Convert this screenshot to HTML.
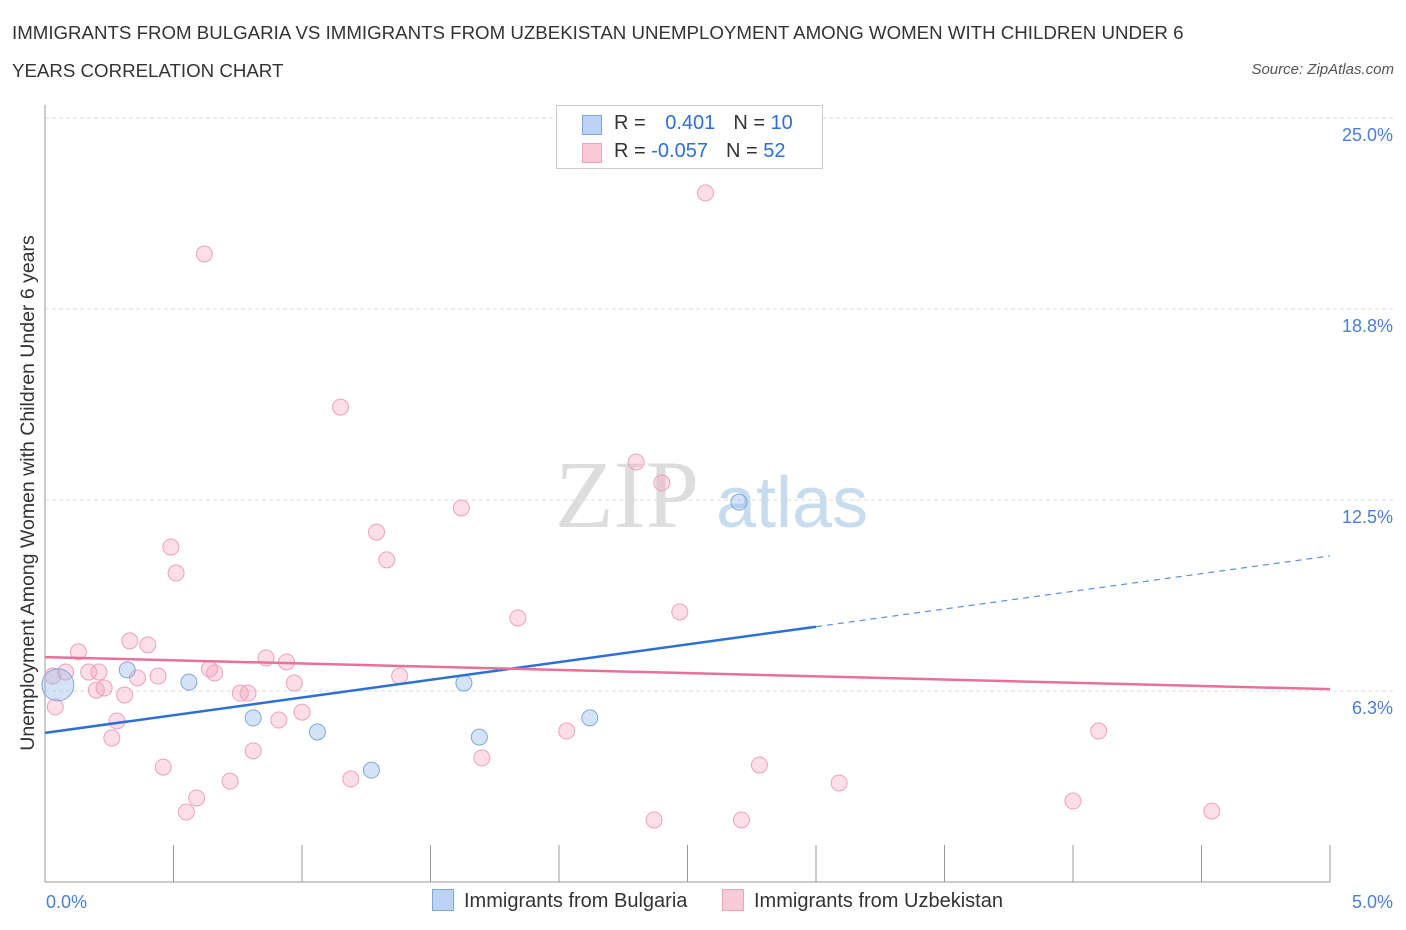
<!DOCTYPE html>
<html><head><meta charset="utf-8"><style>
body{margin:0;background:#fff;font-family:"Liberation Sans",sans-serif;}
#wrap{position:relative;width:1406px;height:930px;overflow:hidden;}
.t{position:absolute;white-space:nowrap;}
</style></head><body>
<div id="wrap">
<div class="t" style="left:12px;top:14px;font-size:18.7px;color:#333;line-height:38px;">IMMIGRANTS FROM BULGARIA VS IMMIGRANTS FROM UZBEKISTAN UNEMPLOYMENT AMONG WOMEN WITH CHILDREN UNDER 6<br>YEARS CORRELATION CHART</div>
<div class="t" style="right:12px;top:61px;font-size:15px;color:#555;font-style:italic;">Source: ZipAtlas.com</div>
<svg id="svg" width="1406" height="930" style="position:absolute;left:0;top:0;"></svg>
</div>
<script>
const xTicksPct=[0,5];
const yTicks=[6.25,12.5,18.75,25];
const yTickLabels=["6.3%","12.5%","18.8%","25.0%"];
const bulgariaX=[0.05,0.32,0.56,0.81,1.06,1.27,1.63,1.69,2.12,2.70];
const bulgariaY=[6.45,6.94,6.54,5.37,4.91,3.66,6.51,4.74,5.37,12.43];
const uzbekX=[0.62,1.15,2.57,2.30,2.40,1.62,1.29,1.33,0.49,0.51,1.84,2.47,0.13,0.33,0.40,0.21,0.17,0.08,0.03,0.20,0.23,0.31,0.36,0.44,0.64,0.66,0.86,0.94,0.97,0.76,0.79,0.28,0.26,0.04,0.91,1.00,0.81,1.38,0.46,0.59,0.55,0.72,1.19,1.70,2.03,2.37,2.71,2.78,3.09,4.00,4.10,4.54];
const uzbekY=[20.55,15.54,22.55,13.74,13.06,12.24,11.45,10.54,10.96,10.11,8.64,8.84,7.53,7.89,7.76,6.87,6.87,6.87,6.74,6.28,6.35,6.12,6.68,6.74,6.97,6.84,7.33,7.20,6.51,6.18,6.18,5.27,4.71,5.73,5.30,5.56,4.29,6.74,3.76,2.75,2.29,3.30,3.37,4.06,4.94,2.03,2.03,3.83,3.24,2.65,4.94,2.32];
const bulgariaTrend=[4.88,10.67];
const uzbekTrend=[7.36,6.31];
const NS="http://www.w3.org/2000/svg";
const svg=document.getElementById('svg');
const X0=45,X1=1330,Y0=882,PER=30.56;
function sx(v){return X0+(X1-X0)*v/5;}
function sy(v){return Y0-v*PER;}
function el(tag,attrs){const e=document.createElementNS(NS,tag);for(const k in attrs)e.setAttribute(k,attrs[k]);svg.appendChild(e);return e;}
let w=el('text',{x:555,y:527,'font-size':96,fill:'#ddd','font-family':'Liberation Serif,serif'});w.textContent='ZIP';


w=el('text',{x:716,y:527,'font-size':72,fill:'#c8dcf0','font-family':'Liberation Sans,sans-serif'});w.textContent='atlas';


el('line',{x1:X0,x2:1395,y1:118,y2:118,stroke:'#ddd','stroke-dasharray':'4,3'});
yTicks.forEach((v,i)=>{
 const g=el('line',{x1:X0,x2:1395,y1:sy(v),y2:sy(v),stroke:'#ddd','stroke-dasharray':'4,3'});
 
 
 const t=el('text',{x:1393,y:sy(v)+23,'text-anchor':'end','font-size':18,fill:'#4a7fd4'});t.textContent=yTickLabels[i];
 
 
});
el('line',{x1:X0,x2:X0,y1:105,y2:Y0,stroke:'#999'});
el('line',{x1:X0,x2:X1,y1:Y0,y2:Y0,stroke:'#999'});
for(let i=0;i<=10;i++){const x=sx(i*0.5);el('line',{x1:x,x2:x,y1:845,y2:Y0,stroke:'#999'});}
xTicksPct.forEach(v=>{const t=el('text',{x:v==0?46:1393,y:908,'text-anchor':v==0?'start':'end','font-size':18,fill:'#4a7fd4'});t.textContent=v.toFixed(1)+'%';
 
 });
let yt=el('text',{x:34,y:493,'text-anchor':'middle','font-size':19.5,fill:'#333',transform:'rotate(-90 34 493)'});yt.textContent='Unemployment Among Women with Children Under 6 years';


uzbekX.forEach((x,i)=>{const c=el('circle',{cx:sx(x),cy:sy(uzbekY[i]),r:8,fill:'rgba(244,160,185,0.35)',stroke:'#eea2b8','stroke-width':1});
 
 });
bulgariaX.forEach((x,i)=>{const c=el('circle',{cx:sx(x),cy:sy(bulgariaY[i]),r:i==0?16:8,fill:'rgba(150,185,235,0.4)',stroke:'#7fa6dc','stroke-width':1});
 
 });
function tv(tr,x){return tr[0]+(tr[1]-tr[0])*x/5;}
let l=el('line',{x1:sx(0),y1:sy(tv(bulgariaTrend,0)),x2:sx(3),y2:sy(tv(bulgariaTrend,3)),stroke:'#2d6fd6','stroke-width':2.5});


l=el('line',{x1:sx(3),y1:sy(tv(bulgariaTrend,3)),x2:sx(5),y2:sy(tv(bulgariaTrend,5)),stroke:'#5a8fe0','stroke-width':1.2,'stroke-dasharray':'6,5'});


l=el('line',{x1:sx(0),y1:sy(uzbekTrend[0]),x2:sx(5),y2:sy(uzbekTrend[1]),stroke:'#e8709a','stroke-width':2.5});


</script>
<div class="t" style="left:556px;top:105px;width:265px;height:62px;border:1px solid #ccc;background:#fff;font-size:20px;">
 <div style="position:absolute;left:25px;top:9px;width:18px;height:18px;background:#bcd3f5;border:1px solid #7fa6dc;"></div>
 <div style="position:absolute;left:57px;top:6px;color:#333;">R = <span style="color:#2d6fd6;margin-left:14px;">0.401</span><span style="color:#333;margin-left:18px;">N = </span><span style="color:#2d6fd6;">10</span></div>
 <div style="position:absolute;left:25px;top:37px;width:18px;height:18px;background:#f9cbd8;border:1px solid #eea2b8;"></div>
 <div style="position:absolute;left:57px;top:34px;color:#333;">R = <span style="color:#2d6fd6;">-0.057</span><span style="color:#333;margin-left:18px;">N = </span><span style="color:#2d6fd6;">52</span></div>
</div>
<div class="t" style="left:432px;top:889px;font-size:20px;color:#333;"><span style="display:inline-block;width:20px;height:20px;background:#bcd3f5;border:1px solid #7fa6dc;vertical-align:-4px;margin-right:10px;"></span>Immigrants from Bulgaria</div>
<div class="t" style="left:722px;top:889px;font-size:20px;color:#333;"><span style="display:inline-block;width:20px;height:20px;background:#f9cbd8;border:1px solid #eea2b8;vertical-align:-4px;margin-right:10px;"></span>Immigrants from Uzbekistan</div>
</body></html>
